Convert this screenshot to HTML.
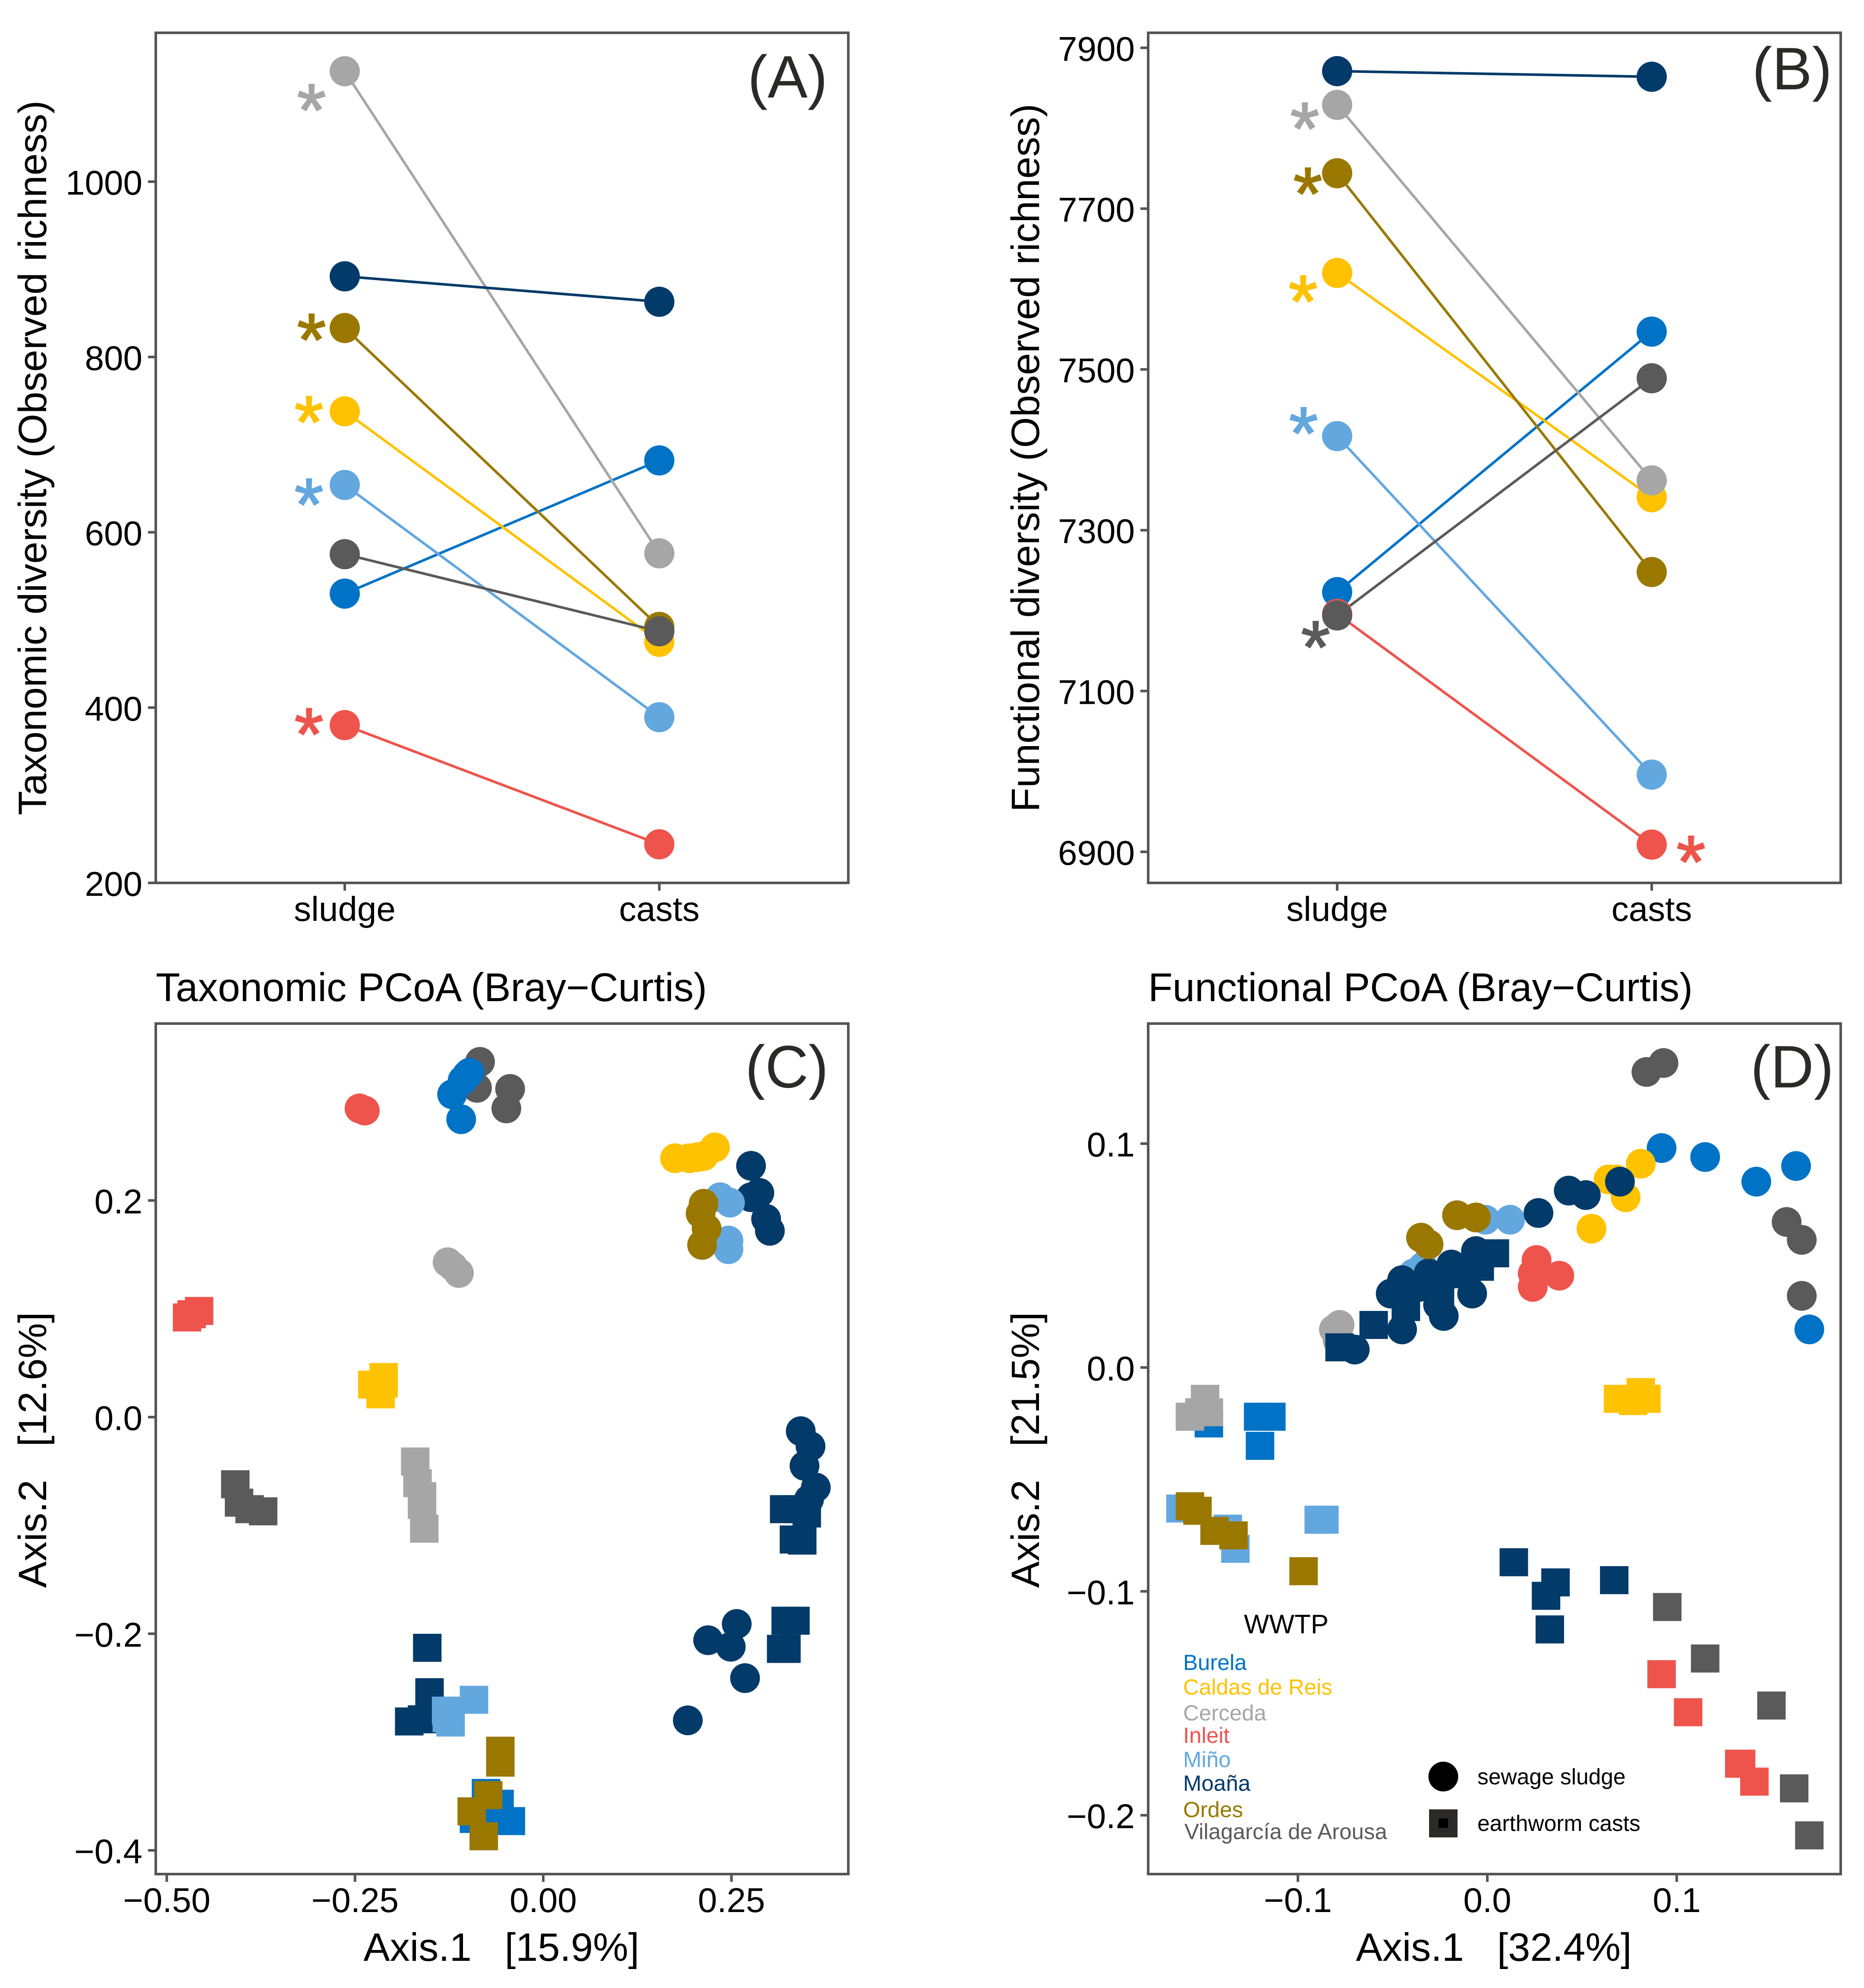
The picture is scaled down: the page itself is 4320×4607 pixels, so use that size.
<!DOCTYPE html>
<html lang="en">
<head>
<meta charset="utf-8">
<title>Taxonomic and functional diversity of sewage sludge and earthworm casts</title>
<style>
html,body{margin:0;padding:0;background:#fff}
svg{display:block;font-family:"Liberation Sans",Arial,sans-serif}
.tick{font-size:80px;fill:#000}
.title{font-size:92.5px;fill:#000}
.axt{font-size:92px;fill:#000;white-space:pre}
.tag{font-size:139px;fill:#2b2a29}
.leg{font-size:51px}
</style>
</head>
<body>
<svg id="chart" xmlns="http://www.w3.org/2000/svg" width="4320" height="4607" viewBox="0 0 4320 4607">
  <rect x="0" y="0" width="4320" height="4607" fill="#fff"/>

  <g id="panelA"></g>
  <g id="panelB"></g>
  <g id="panelC"></g>
  <g id="panelD"></g>

  <text class="axt" transform="translate(107 1061) rotate(-90)" text-anchor="middle">Taxonomic diversity (Observed richness)</text>
  <text class="axt" transform="translate(2408 1061) rotate(-90)" text-anchor="middle">Functional diversity (Observed richness)</text>

  <text class="title" x="361" y="2320">Taxonomic PCoA (Bray−Curtis)</text>
  <text class="title" x="2661" y="2320">Functional PCoA (Bray−Curtis)</text>

  <text class="axt" x="1162" y="4544" text-anchor="middle" xml:space="preserve">Axis.1   [15.9%]</text>
  <text class="axt" x="3462" y="4544" text-anchor="middle" xml:space="preserve">Axis.1   [32.4%]</text>
  <text class="axt" transform="translate(107 3360) rotate(-90)" text-anchor="middle" xml:space="preserve">Axis.2   [12.6%]</text>
  <text class="axt" transform="translate(2408 3360) rotate(-90)" text-anchor="middle" xml:space="preserve">Axis.2   [21.5%]</text>

  <text class="tag" x="1918" y="226" text-anchor="end">(A)</text>
  <text class="tag" x="4246" y="207" text-anchor="end">(B)</text>
  <text class="tag" x="1920" y="2520" text-anchor="end">(C)</text>
  <text class="tag" x="4250" y="2520" text-anchor="end">(D)</text>

  <g>
    <text x="2981" y="3785" text-anchor="middle" style="font-size:62px" fill="#000">WWTP</text>
    <text class="leg" x="2742" y="3870" fill="#0073c6">Burela</text>
    <text class="leg" x="2742" y="3927" fill="#ffc200">Caldas de Reis</text>
    <text class="leg" x="2742" y="3987" fill="#a6a6a6">Cerceda</text>
    <text class="leg" x="2742" y="4039" fill="#ee544c">Inleit</text>
    <text class="leg" x="2742" y="4095" fill="#63a7df">Miño</text>
    <text class="leg" x="2742" y="4150" fill="#023a69">Moaña</text>
    <text class="leg" x="2742" y="4211" fill="#9a7800">Ordes</text>
    <text class="leg" x="2745" y="4262" fill="#5a5a5a">Vilagarcía de Arousa</text>
  </g>
  <g>
    <circle cx="3345" cy="4117" r="34.5" fill="#000"/>
    <text class="leg" x="3424" y="4135" fill="#000" style="font-size:51.5px">sewage sludge</text>
    <rect x="3312" y="4193" width="66" height="65" fill="#2b2a29"/>
    <rect x="3334" y="4214" width="22" height="22" fill="#000"/>
    <text class="leg" x="3424" y="4243" fill="#000" style="font-size:51.5px">earthworm casts</text>
  </g>
</svg>

<script>
// ---- shared categories ----
const sites = ['Burela', 'Caldas de Reis', 'Cerceda', 'Inleit', 'Miño', 'Moaña', 'Ordes', 'Vilagarcía de Arousa'];
const groups = ['sludge', 'casts'];
const siteColors = ['#0073c6', '#ffc200', '#a6a6a6', '#ee544c', '#63a7df', '#023a69', '#9a7800', '#5a5a5a'];

// ---- panel A and B: richness per site ----
const taxRichnessSludge = [530, 738, 1126, 380, 654, 892, 833, 575];
const taxRichnessCasts = [682, 475, 576, 244, 389, 863, 492, 487];
const funRichnessSludge = [7223, 7620, 7829, 7196, 7417, 7871, 7744, 7194];
const funRichnessCasts = [7547, 7341, 7362, 6909, 6996, 7864, 7248, 7489];

const taxTicks = [200, 400, 600, 800, 1000];
const funTicks = [6900, 7100, 7300, 7500, 7700, 7900];

// ---- significance asterisks ----
const taxStarSites = [2, 6, 1, 4, 3];
const taxStarValues = [1094, 832, 738, 644, 382];
const funStarSites = [2, 6, 1, 4, 7, 3];
const funStarValues = [7813, 7732, 7598, 7434, 7168, 6901];

// ---- panel C: taxonomic PCoA [axis1, axis2] ----
const taxSludgeBurela = [[-.101,.316],[-.107,.311],[-.121,.298],[-.109,.275],[-.098,.318]];
const taxSludgeCaldas = [[.175,.239],[.194,.239],[.213,.241],[.228,.249],[.205,.240]];
const taxSludgeCerceda = [[-.127,.143],[-.120,.139],[-.112,.133]];
const taxSludgeInleit = [[-.244,.285],[-.237,.283]];
const taxSludgeMino = [[.235,.203],[.248,.198],[.246,.163],[.246,.155]];
const taxSludgeMoana = [[.276,.232],[.287,.207],[.276,.203],[.296,.183],[.301,.172],[.342,-.013],[.355,-.027],[.347,-.045],[.362,-.065],[.353,-.076],[.257,-.191],[.219,-.206],[.249,-.212],[.268,-.241],[.192,-.280]];
const taxSludgeOrdes = [[.213,.197],[.209,.188],[.217,.174],[.211,.159]];
const taxSludgeVilagarcia = [[-.084,.328],[-.088,.304],[-.044,.303],[-.049,.285]];

const taxCastsBurela = [[-.076,-.347],[-.058,-.357],[-.043,-.373],[-.092,-.371],[-.078,-.370]];
const taxCastsCaldas = [[-.227,.030],[-.212,.037],[-.216,.021],[-.212,.031]];
const taxCastsCerceda = [[-.170,-.041],[-.167,-.061],[-.161,-.073],[-.161,-.081],[-.158,-.103]];
const taxCastsInleit = [[-.473,.092],[-.467,.095],[-.457,.098]];
const taxCastsMino = [[-.092,-.261],[-.129,-.271],[-.123,-.282],[-.128,-.278]];
const taxCastsMoana = [[.320,-.085],[.340,-.085],[.350,-.089],[.333,-.113],[.344,-.114],[.322,-.188],[.335,-.188],[.316,-.214],[.323,-.214],[-.154,-.213],[-.151,-.254],[-.178,-.281],[-.161,-.279]];
const taxCastsOrdes = [[-.057,-.308],[-.057,-.319],[-.073,-.349],[-.095,-.364],[-.079,-.387]];
const taxCastsVilagarcia = [[-.409,-.062],[-.404,-.079],[-.390,-.085],[-.372,-.087]];

// ---- panel D: functional PCoA [axis1, axis2] ----
const funSludgeBurela = [[.092,.098],[.115,.094],[.142,.083],[.163,.090],[.170,.017]];
const funSludgeCaldas = [[.081,.091],[.064,.084],[.068,.084],[.073,.076],[.055,.062]];
const funSludgeCerceda = [[-.078,.019],[-.081,.017],[-.079,.012]];
const funSludgeInleit = [[.026,.048],[.024,.042],[.024,.036],[.038,.041]];
const funSludgeMino = [[-.001,.066],[.012,.066],[-.034,.045],[-.039,.042]];
const funSludgeMoana = [[.027,.069],[.043,.079],[.052,.077],[.070,.083],[-.006,.052],[-.019,.046],[-.031,.042],[-.045,.039],[-.051,.033],[-.008,.033],[-.023,.023],[-.026,.028],[-.045,.017],[-.070,.008],[-.036,.036],[-.017,.042]];
const funSludgeOrdes = [[-.016,.068],[-.006,.067],[-.035,.058],[-.031,.055]];
const funSludgeVilagarcia = [[.084,.132],[.093,.136],[.158,.065],[.166,.057],[.166,.032]];

const funCastsBurela = [[-.147,-.025],[-.121,-.022],[-.114,-.022],[-.120,-.035]];
const funCastsCaldas = [[.069,-.014],[.081,-.011],[.077,-.015],[.084,-.014]];
const funCastsCerceda = [[-.149,-.014],[-.147,-.020],[-.157,-.022],[-.152,-.020]];
const funCastsInleit = [[.092,-.137],[.106,-.154],[.133,-.177],[.134,-.177],[.141,-.185]];
const funCastsMino = [[-.162,-.063],[-.137,-.072],[-.133,-.081],[-.089,-.068],[-.086,-.068]];
const funCastsMoana = [[.004,.051],[-.004,.045],[-.011,.042],[-.025,.037],[-.043,.027],[-.025,.033],[-.026,.039],[-.060,.019],[-.078,.009],[.014,-.087],[.036,-.096],[.031,-.102],[.033,-.117],[.067,-.095]];
const funCastsOrdes = [[-.157,-.062],[-.153,-.064],[-.144,-.073],[-.134,-.075],[-.097,-.091]];
const funCastsVilagarcia = [[.095,-.107],[.115,-.130],[.150,-.151],[.162,-.188],[.170,-.209]];

// ---- PCoA tick labels ----
const taxXTicks = [-0.5, -0.25, 0, 0.25];
const taxYTicks = [-0.4, -0.2, 0, 0.2];
const funXTicks = [-0.1, 0, 0.1];
const funYTicks = [-0.2, -0.1, 0, 0.1];

const NS = 'http://www.w3.org/2000/svg';
const BORDER = '#555555';

function make(parent, tag, attrs) {
  const el = document.createElementNS(NS, tag);
  for (const k in attrs) el.setAttribute(k, attrs[k]);
  parent.appendChild(el);
  return el;
}
function slug(s) {
  return s.toLowerCase().normalize('NFD').replace(/[\u0300-\u036f]/g, '').replace(/[^a-z0-9]+/g, '-');
}
function signed(v, digits) {
  const t = Math.abs(v).toFixed(digits);
  return v < 0 ? '\u2212' + t : t;
}

function drawFrame(g, box) {
  const frame = make(g, 'rect', {x: box.l, y: box.t, width: box.r - box.l, height: box.b - box.t, fill: 'none', stroke: BORDER, 'stroke-width': 6});
  
  
}
function drawYTicks(g, box, ticks, sy, digits) {
  ticks.forEach(function (v) {
    const y = sy(v);
    const tick = make(g, 'line', {x1: box.l - 18, x2: box.l, y1: y, y2: y, stroke: BORDER, 'stroke-width': 6});
    
    
    const label = make(g, 'text', {x: box.l - 31, y: y + 30, 'text-anchor': 'end', 'class': 'tick'});
    
    
    label.textContent = signed(v, digits);
  });
}
function drawXTicks(g, box, ticks, sx, digits) {
  ticks.forEach(function (v) {
    const x = sx(v);
    const tick = make(g, 'line', {x1: x, x2: x, y1: box.b, y2: box.b + 18, stroke: BORDER, 'stroke-width': 6});
    
    
    const label = make(g, 'text', {x: x, y: box.b + 88, 'text-anchor': 'middle', 'class': 'tick'});
    
    
    label.textContent = signed(v, digits);
  });
}

function drawPaired(g, box, ticks, sx, sy, sludge, casts, starSites, starValues, starOffsets) {
  // axis ticks and category labels
  drawYTicks(g, box, ticks, sy, 0);
  groups.forEach(function (name, i) {
    const x = sx(i);
    const tick = make(g, 'line', {x1: x, x2: x, y1: box.b, y2: box.b + 18, stroke: BORDER, 'stroke-width': 6});
    
    
    const label = make(g, 'text', {x: x, y: box.b + 88, 'text-anchor': 'middle', 'class': 'tick'});
    
    
    label.textContent = name;
  });
  sites.forEach(function (site, i) {
    const line = make(g, 'line', {x1: sx(0), y1: sy(sludge[i]), x2: sx(1), y2: sy(casts[i]), stroke: siteColors[i], 'stroke-width': 6});
    
    
  });
  sites.forEach(function (site, i) {
    const a = make(g, 'circle', {cx: sx(0), cy: sy(sludge[i]), r: 35, fill: siteColors[i]});
    
    
    const b = make(g, 'circle', {cx: sx(1), cy: sy(casts[i]), r: 35, fill: siteColors[i]});
    
    
  });
  starSites.forEach(function (s, i) {
    const off = starOffsets[i];
    const fs = 172;
    const star = make(g, 'text', {x: sx(off[0]) + off[1], y: sy(starValues[i]) + 0.576 * fs - 15, 'text-anchor': 'middle', fill: siteColors[s], stroke: siteColors[s], 'stroke-width': 3, style: 'font-size:' + fs + 'px'});
    
    
    star.textContent = '*';
  });
}

function drawScatter(g, layers, sx, sy) {
  layers.forEach(function (layer) {
    const color = siteColors[layer.site];
    layer.points.forEach(function (p) {
      if (layer.shape === 'circle') {
        const c = make(g, 'circle', {cx: sx(p[0]), cy: sy(p[1]), r: 34.5, fill: color});
        
        
      } else {
        const r = make(g, 'rect', {x: sx(p[0]) - 33, y: sy(p[1]) - 32.5, width: 66, height: 65, fill: color});
        
        
      }
    });
  });
}

// Panel A
(function () {
  const g = document.getElementById('panelA');
  const box = {l: 361, r: 1966, t: 76, b: 2046};
  const sx = function (i) { return 799 + i * 729; };
  const sy = function (v) { return 2046 - (v - 200) * 2.03125; };
  drawPaired(g, box, taxTicks, sx, sy, taxRichnessSludge, taxRichnessCasts, taxStarSites, taxStarValues,
    [[0, -77], [0, -77], [0, -83], [0, -83], [0, -83]]);
  drawFrame(g, box);
})();

// Panel B
(function () {
  const g = document.getElementById('panelB');
  const box = {l: 2661, r: 4266, t: 76, b: 2046};
  const sx = function (i) { return 3099 + i * 729; };
  const sy = function (v) { return 1974 - (v - 6900) * 1.8632; };
  drawPaired(g, box, funTicks, sx, sy, funRichnessSludge, funRichnessCasts, funStarSites, funStarValues,
    [[0, -75], [0, -68], [0, -79], [0, -78], [0, -50], [1, 91]]);
  drawFrame(g, box);
})();

// Panel C
(function () {
  const g = document.getElementById('panelC');
  const box = {l: 361, r: 1966, t: 2372, b: 4343};
  const sx = function (v) { return 1259 + 1745 * v; };
  const sy = function (v) { return 3284 - 2510 * v; };
  drawScatter(g, [
    {site: 7, shape: 'circle', points: taxSludgeVilagarcia},
    {site: 7, shape: 'square', points: taxCastsVilagarcia},
    {site: 0, shape: 'circle', points: taxSludgeBurela},
    {site: 0, shape: 'square', points: taxCastsBurela},
    {site: 3, shape: 'circle', points: taxSludgeInleit},
    {site: 3, shape: 'square', points: taxCastsInleit},
    {site: 2, shape: 'circle', points: taxSludgeCerceda},
    {site: 2, shape: 'square', points: taxCastsCerceda},
    {site: 1, shape: 'circle', points: taxSludgeCaldas},
    {site: 1, shape: 'square', points: taxCastsCaldas},
    {site: 5, shape: 'circle', points: taxSludgeMoana},
    {site: 5, shape: 'square', points: taxCastsMoana},
    {site: 4, shape: 'circle', points: taxSludgeMino},
    {site: 4, shape: 'square', points: taxCastsMino},
    {site: 6, shape: 'circle', points: taxSludgeOrdes},
    {site: 6, shape: 'square', points: taxCastsOrdes}
  ], sx, sy);
  drawYTicks(g, box, taxYTicks, sy, 1);
  drawXTicks(g, box, taxXTicks, sx, 2);
  drawFrame(g, box);
})();

// Panel D
(function () {
  const g = document.getElementById('panelD');
  const box = {l: 2661, r: 4266, t: 2372, b: 4343};
  const sx = function (v) { return 3447 + 4390 * v; };
  const sy = function (v) { return 3169 - 5188 * v; };
  drawScatter(g, [
    {site: 7, shape: 'circle', points: funSludgeVilagarcia},
    {site: 7, shape: 'square', points: funCastsVilagarcia},
    {site: 0, shape: 'circle', points: funSludgeBurela},
    {site: 0, shape: 'square', points: funCastsBurela},
    {site: 2, shape: 'circle', points: funSludgeCerceda},
    {site: 2, shape: 'square', points: funCastsCerceda},
    {site: 1, shape: 'circle', points: funSludgeCaldas},
    {site: 1, shape: 'square', points: funCastsCaldas},
    {site: 3, shape: 'circle', points: funSludgeInleit},
    {site: 3, shape: 'square', points: funCastsInleit},
    {site: 4, shape: 'circle', points: funSludgeMino},
    {site: 4, shape: 'square', points: funCastsMino},
    {site: 5, shape: 'circle', points: funSludgeMoana},
    {site: 5, shape: 'square', points: funCastsMoana},
    {site: 6, shape: 'circle', points: funSludgeOrdes},
    {site: 6, shape: 'square', points: funCastsOrdes}
  ], sx, sy);
  drawYTicks(g, box, funYTicks, sy, 1);
  drawXTicks(g, box, funXTicks, sx, 1);
  drawFrame(g, box);
})();
</script>
</body>
</html>
